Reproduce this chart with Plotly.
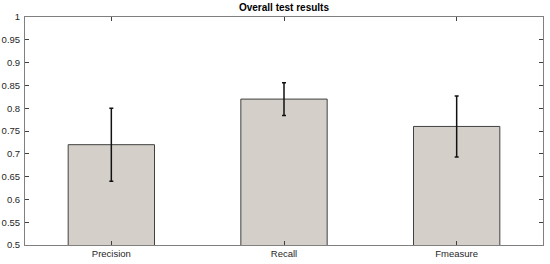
import plotly.graph_objects as go

categories = ["Precision", "Recall", "Fmeasure"]
values = [0.72, 0.82, 0.76]
errors = [0.08, 0.036, 0.067]
y_ticks = [0.5, 0.55, 0.6, 0.65, 0.7, 0.75, 0.8, 0.85, 0.9, 0.95, 1]
y_labels = ["0.5", "0.55", "0.6", "0.65", "0.7", "0.75", "0.8", "0.85", "0.9", "0.95", "1"]

fig = go.Figure()
fig.add_trace(go.Bar(
    x=[1, 2, 3], y=values, width=0.5,
    marker=dict(color="#d4d0c9", line=dict(color="#404040", width=1)),
    error_y=dict(type="data", array=errors, color="#111111", thickness=1.5, width=2),
))
fig.update_layout(
    template="none",
    width=550, height=264,
    margin=dict(l=25, r=7, t=17, b=19, autoexpand=False),
    paper_bgcolor="white", plot_bgcolor="white",
    font=dict(family="Liberation Sans, Arial, sans-serif", size=9.5, color="#262626"),
    title=dict(text="<b>Overall test results</b>", x=0.5, xref="paper", xanchor="center",
               y=0.97, yref="container", yanchor="middle",
               font=dict(size=10, color="#000000")),
    showlegend=False,
)
fig.update_xaxes(
    range=[0.5, 3.5], tickvals=[1, 2, 3], ticktext=categories,
    ticks="inside", ticklen=4, tickcolor="#404040", automargin=False,
    showline=True, linecolor="#808080", linewidth=1, mirror="ticks",
    showgrid=False, zeroline=False,
)
fig.update_yaxes(
    range=[0.5, 1], tickvals=y_ticks, ticktext=y_labels,
    ticks="inside", ticklen=4, tickcolor="#404040", automargin=False,
    showline=True, linecolor="#808080", linewidth=1, mirror="ticks",
    showgrid=False, zeroline=False, ticklabelstandoff=2,
)
fig.write_html("out.html", config={"displayModeBar": False},
               post_script="document.body.style.margin='0px';")
